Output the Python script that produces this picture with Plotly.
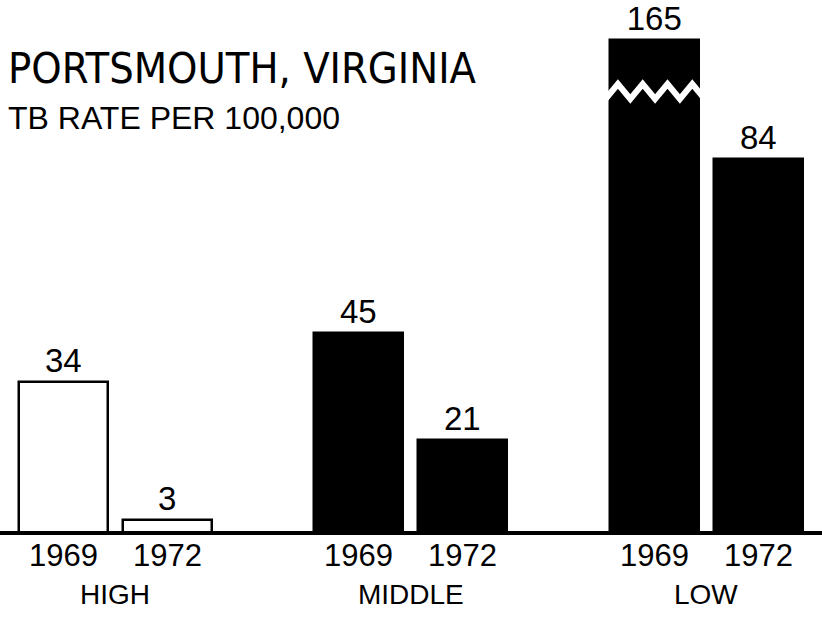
import plotly.graph_objects as go

# ---- data ----
groups = ["HIGH", "MIDDLE", "LOW"]
years = ["1969", "1972"]
rate_1969 = [34, 45, 165]
rate_1972 = [3, 21, 84]
title_text = "PORTSMOUTH, VIRGINIA"
subtitle_text = "TB RATE PER 100,000"

# ---- layout constants (pixel-like units) ----
W, H = 822, 619
BASE_PX = 533          # baseline pixel row
PX_PER_UNIT = 4.45     # vertical scale
CAP = 110.8            # axis-break display cap
GROUP0, GROUP_STEP = 115, 295.5
OFFSET, BAR_W = 52, 89

def paper_y(px):
    return 1 - px / H

y_lo = -(H - BASE_PX) / PX_PER_UNIT
y_hi = BASE_PX / PX_PER_UNIT

centers = [GROUP0 + GROUP_STEP * i for i in range(len(groups))]
fonts = "Liberation Sans, Arial, sans-serif"
narrow = "Liberation Sans Narrow, DejaVu Sans Condensed, Arial Narrow, sans-serif"

fig = go.Figure()
for yi, (yr, vals) in enumerate(zip(years, [rate_1969, rate_1972])):
    xs = [c + (2 * yi - 1) * OFFSET for c in centers]
    fills = ["white" if g == "HIGH" else "black" for g in groups]
    fig.add_trace(go.Bar(
        x=xs, y=[min(v, CAP) for v in vals], width=BAR_W,
        marker=dict(color=fills, line=dict(color="black", width=2.5)),
        text=[str(v) for v in vals], textposition="outside",
        textfont=dict(family=fonts, size=33, color="black"),
        cliponaxis=False, showlegend=False, hoverinfo="skip",
    ))
    for x, v in zip(xs, vals):
        fig.add_annotation(x=x, y=paper_y(555), xref="x", yref="paper",
                           text=yr, showarrow=False, yanchor="middle",
                           font=dict(family=fonts, size=31, color="black"))
        if v > CAP:
            # zig-zag break marker
            left = x - BAR_W / 2 - 4
            zx = [left + k * 12.4 for k in range(9)]
            mid = (BASE_PX - 91.5) / PX_PER_UNIT
            amp = 7.5 / PX_PER_UNIT
            zy = [mid + (amp if k % 2 else -amp) for k in range(9)]
            fig.add_trace(go.Scatter(x=zx, y=zy, mode="lines",
                                     line=dict(color="white", width=6),
                                     showlegend=False, hoverinfo="skip"))

for c, g in zip(centers, groups):
    fig.add_annotation(x=c, y=paper_y(594), xref="x", yref="paper", text=g,
                       showarrow=False, yanchor="middle",
                       font=dict(family=fonts, size=28, color="black"))

fig.add_annotation(x=6 / W, y=paper_y(68), xref="paper", yref="paper",
                   text=title_text, showarrow=False, xanchor="left", yanchor="middle",
                   font=dict(family=narrow, size=43, color="black"))
fig.add_annotation(x=6 / W, y=paper_y(118), xref="paper", yref="paper",
                   text=subtitle_text, showarrow=False, xanchor="left", yanchor="middle",
                   font=dict(family=fonts, size=32, color="black"))

fig.add_shape(type="line", xref="paper", yref="y", x0=0, x1=1, y0=0, y1=0,
              line=dict(color="black", width=4), layer="above")

fig.update_layout(
    width=W, height=H, margin=dict(l=0, r=0, t=0, b=0),
    paper_bgcolor="white", plot_bgcolor="white",
    xaxis=dict(range=[0, W], visible=False, fixedrange=True),
    yaxis=dict(range=[y_lo, y_hi], visible=False, fixedrange=True),
    bargap=0, showlegend=False,
)
fig.write_html("out.html", config={"displayModeBar": False},
               post_script="document.body.style.margin='0';document.body.style.overflow='hidden';")
